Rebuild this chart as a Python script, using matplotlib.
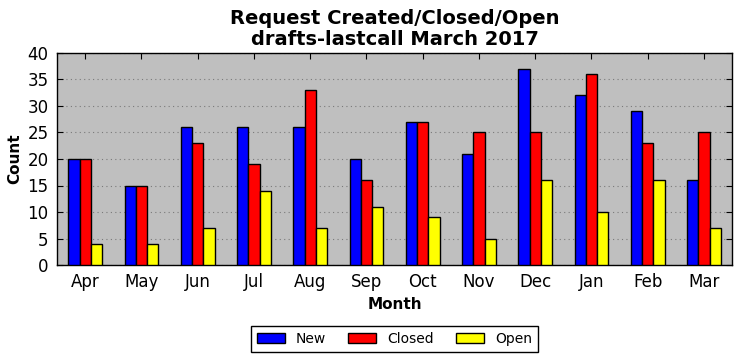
import numpy as np
import matplotlib

matplotlib.use("Agg")
import matplotlib.pyplot as plt

months = ["Apr", "May", "Jun", "Jul", "Aug", "Sep", "Oct", "Nov", "Dec", "Jan", "Feb", "Mar"]
new = [20, 15, 26, 26, 26, 20, 27, 21, 37, 32, 29, 16]
closed = [20, 15, 23, 19, 33, 16, 27, 25, 25, 36, 23, 25]
open_ = [4, 4, 7, 14, 7, 11, 9, 5, 16, 10, 16, 7]

series = [("New", new, "#0000ff"), ("Closed", closed, "#ff0000"), ("Open", open_, "#ffff00")]

fig = plt.figure(figsize=(7.41, 3.61), dpi=100)
ax = fig.add_axes([57 / 741, 1 - 265 / 361, 675 / 741, 212 / 361])
ax.set_facecolor("#bfbfbf")

x = np.arange(len(months))
width = 0.2
for i, (name, vals, color) in enumerate(series):
    ax.bar(x + (i - 1) * width, vals, width, color=color, edgecolor="black",
           linewidth=1, label=name, zorder=3)

ax.set_xlim(-0.5, len(months) - 0.5)
ax.set_ylim(0, 40)
ax.set_yticks(range(0, 41, 5))
ax.set_xticks(x)
ax.set_xticklabels(months)
ax.yaxis.grid(True, linestyle=(0, (1, 3)), color="#7a7a7a", linewidth=0.8, zorder=0)
ax.tick_params(direction="in", top=True, right=True, labelsize=12, length=4, pad=6)
for s in ax.spines.values():
    s.set_linewidth(1)

ax.set_xlabel("Month", fontsize=11, fontweight="bold")
ax.set_ylabel("Count", fontsize=11, fontweight="bold")
ax.set_title("Request Created/Closed/Open\ndrafts-lastcall March 2017",
             fontsize=14, fontweight="bold", linespacing=1.1)

leg = ax.legend(loc="upper center", bbox_to_anchor=(0.5, -0.29), ncol=3,
                fontsize=10, fancybox=False, edgecolor="black", framealpha=1,
                handlelength=2.0, columnspacing=1.6, borderaxespad=0)
leg.get_frame().set_linewidth(1)

fig.savefig("out.png", dpi=100)
